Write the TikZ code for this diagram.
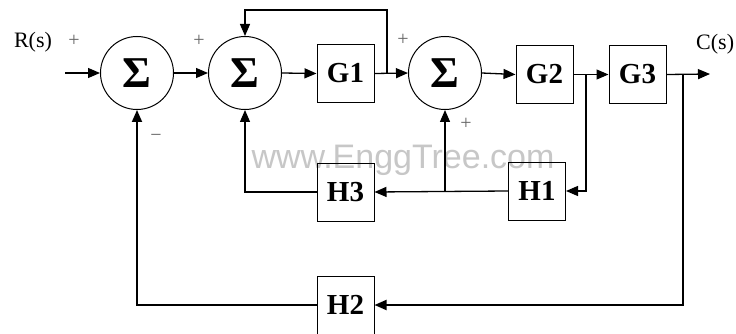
\documentclass[tikz,border=0pt]{standalone}
\usepackage{fontspec}
\setmainfont{Liberation Serif}
\newfontfamily\wmfont{Liberation Sans}
\usetikzlibrary{arrows.meta}
\begin{document}
\begin{tikzpicture}[x=1pt,y=-1pt,
  sumnode/.style={circle,draw,line width=1pt,minimum size=73pt,inner sep=0pt,font=\fontsize{44}{44}\selectfont\bfseries},
  blk/.style={draw,line width=1pt,minimum width=57pt,minimum height=58pt,inner sep=0pt,font=\fontsize{29}{29}\selectfont\bfseries},
  conn/.style={line width=1.3pt,-{Triangle[length=12pt,width=10pt]}},
  sgn/.style={font=\fontsize{20}{20}\selectfont,text=black!60,inner sep=0pt},
  lbl/.style={font=\fontsize{22}{22}\selectfont,inner sep=0pt}]
\useasboundingbox (0,0) rectangle (736,334);
\fill[white] (0,0) rectangle (736,334);
\node[text=black!22,font=\wmfont\fontsize{34}{34}\selectfont] (wm) at (403,160) {www.EnggTree.com};

\node[sumnode] (s1) at (137,73) {Σ};
\node[sumnode] (s2) at (245,73) {Σ};
\node[sumnode] (s3) at (445,73) {Σ};
\node[blk] (G1) at (345.5,73.5) {G1};
\node[blk] (G2) at (544.5,74.5) {G2};
\node[blk] (G3) at (637.5,74.5) {G3};
\node[blk] (H3) at (345.5,192) {H3};
\node[blk] (H1) at (537,191) {H1};
\node[blk] (H2) at (345.5,305) {H2};

\coordinate (in) at (65,73);
\coordinate (out) at (710,74);
\coordinate (b1) at (387,73);
\coordinate (b2) at (586,74.5);
\coordinate (b3) at (683,74.5);
\coordinate (j1) at (445,191);

\draw[conn] (in) -- (s1.west);
\draw[conn] (s1.east) -- (s2.west);
\draw[conn] (s2.east) -- (G1.west);
\draw[conn] (G1.east) -- (s3.west);
\draw[conn] (b1) |- (245,10) -- (s2.north);
\draw[conn] (s3.east) -- (G2.west);
\draw[conn] (G2.east) -- (G3.west);
\draw[conn] (b2) |- (H1.east);
\draw[conn] (G3.east) -- (out);
\draw[conn,line width=1.8pt] (b3) |- (H2.east);
\draw[conn,line width=1.8pt] (H2.west) -| (s1.south);
\draw[conn] (H1.west) -- (H3.east);
\draw[conn] (j1) -- (s3.south);
\draw[conn] (H3.west) -| (s2.south);

\node[lbl] (R) at (33,42) {R(s)};
\node[lbl,anchor=west] (C) at (696,44) {C(s)};
\node[sgn] (p1) at (74,41) {+};
\node[sgn] (p2) at (199,41) {+};
\node[sgn] (m1) at (156,138) {−};
\node[sgn] (p3) at (403,40) {+};
\node[sgn] (p4) at (466,124) {+};
\end{tikzpicture}
\end{document}
